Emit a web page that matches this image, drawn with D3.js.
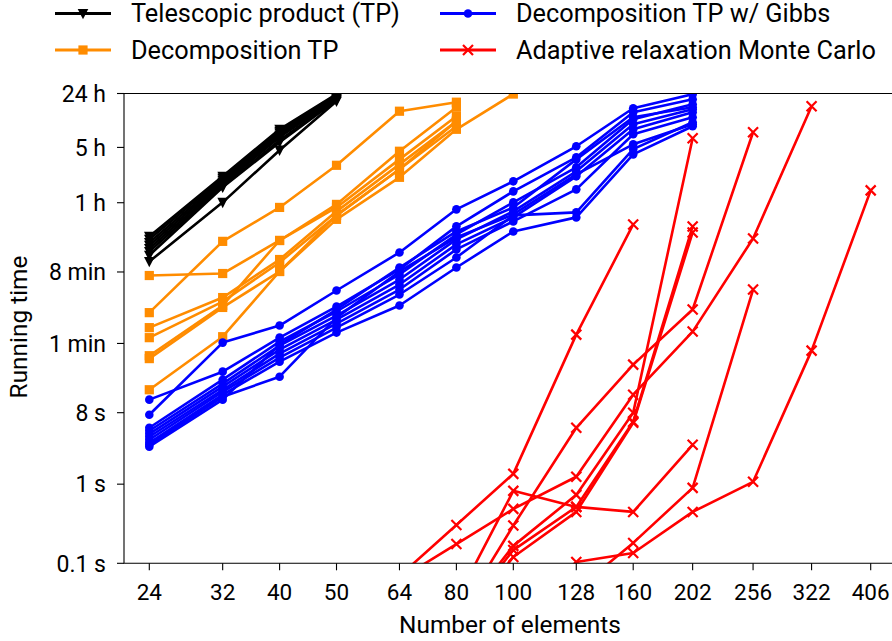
<!DOCTYPE html>
<html>
<head>
<meta charset="utf-8">
<script src="https://cdn.jsdelivr.net/npm/d3@7"></script>
<style>
  body { margin: 0; background: #fff; }
  svg { display: block; font-family: Roboto, "Liberation Sans", sans-serif; }
</style>
</head>
<body>
<svg id="chart" width="892" height="641"></svg>
<script>
// problem sizes (x axis) and y tick values in seconds
const sizes = [24, 32, 40, 50, 64, 80, 100, 128, 160, 202, 256, 322, 406];
const timeTicks = [0.1, 1, 8, 60, 480, 3600, 18000, 86400];
const timeTickLabels = ["0.1 s", "1 s", "8 s", "1 min", "8 min", "1 h", "5 h", "24 h"];

// running times in seconds, aligned with sizes (null = not run)
const tpRuns = [
    [1350, 7760, 30500, 84700],
    [1240, 7330, 28800, 82300],
    [1130, 6910, 27200, 79900],
    [1040, 6520, 25600, 77600],
    [950, 6150, 24200, 75400],
    [870, 5800, 22200, 73200],
    [780, 5640, 20900, 71100],
    [650, 3640, 16600, 69000]
];

const dtpRuns = [
    [433, 459, 1200, 3140, 12700, 44600],
    [147, 1170, 3140, 10700, 51600, 67100],
    [95, 228, 690, 2800, 11000, 38600],
    [71, 203, 633, 2490, 9520, 33300],
    [42, 181, 1200, 3430, 16100, 58000],
    [38.6, 171, 487, 2490, 9520, 38600],
    [15.6, 73, 487, 2220, 7540, 30500, 85000]
];

const gibbsRuns = [
    [7.54, 61.5, 101, 280, 847, 2970, 6710, 18600, 56300, 84700],
    [11.7, 26.4, 71.1, 175, 516, 1810, 5010, 13500, 50100, 73200],
    [5.16, 20.9, 63.3, 152, 446, 1430, 3640, 10100, 40900, 63300],
    [4.73, 18.6, 56.3, 135, 385, 1240, 2800, 8980, 35300, 54700],
    [4.33, 17.1, 50.1, 120, 333, 1070, 2350, 7760, 30500, 50100],
    [3.97, 15.6, 44.6, 107, 288, 925, 2090, 5310, 26400, 43300],
    [3.64, 14.7, 39.7, 95.1, 249, 732, 2490, 2720, 17100, 37400],
    [3.33, 13.5, 35.3, 82.3, 181, 547, 1560, 2350, 14700, 33300],
    [3.14, 12.7, 22.8, 127, 487, 1310, 2560, 8230, 19700, 35300],
    [2.97, 11.7, 58.0, 161, 547, 1560, 3140, 12700, 43300, 58000]
];

const armcRuns = [
    [null, null, null, null, 0.069, 0.305, 1.35, 77.6, 1915],
    [null, null, null, null, null, 0.034, 0.823, 0.516, 0.446, 3.14],
    [null, null, null, null, 0.063, 0.175, 0.487, 1.24, 13.5, 84.7, 1274, 59700],
    [null, null, null, null, null, 0.02, 0.166, 0.732, 8.0, 23500],
    [null, null, null, null, null, 0.018, 0.147, 0.516, 6.15, 1807],
    [null, null, null, null, null, 0.015, 0.120, 0.446, 5.97, 1518],
    [null, null, null, null, null, 0.02, 0.3, 5.16, 32.4, 161, 28000],
    [null, null, null, null, null, null, 0.01, 0.0459, 0.181, 0.898, 288],
    [null, null, null, null, null, null, 0.02, 0.104, 0.135, 0.446, 1.07, 48.7, 5160]
];

const series = [
    {name: "Telescopic product (TP)", color: "#000000", marker: "tri", runs: tpRuns},
    {name: "Decomposition TP", color: "#ff8c00", marker: "square", runs: dtpRuns},
    {name: "Decomposition TP w/ Gibbs", color: "#0000ff", marker: "circle", runs: gibbsRuns},
    {name: "Adaptive relaxation Monte Carlo", color: "#ff0000", marker: "cross", runs: armcRuns}
];

const svg = d3.select("#chart");
const plotLeft = 124, plotRight = 897, plotTop = 93.5, plotBottom = 563.3;

const x = d3.scaleLog().domain([24, 406]).range([149.3, 870.7]);
const y = d3.scaleLog().domain([0.1, 86400]).range([plotBottom, plotTop]);

svg.append("defs").append("clipPath").attr("id", "plotclip")
    .append("rect").attr("x", plotLeft).attr("y", plotTop)
    .attr("width", plotRight - plotLeft).attr("height", plotBottom - plotTop);

function drawMarker(g, type, color, px, py) {
    if (type === "circle") {
        g.append("circle").attr("cx", px).attr("cy", py).attr("r", 4.3).attr("fill", color);
    } else if (type === "square") {
        g.append("rect").attr("x", px - 4.6).attr("y", py - 4.6).attr("width", 9.2).attr("height", 9.2).attr("fill", color);
    } else if (type === "tri") {
        g.append("path").attr("d", `M${px - 5.3},${py - 4.6}L${px + 5.3},${py - 4.6}L${px},${py + 5.8}Z`).attr("fill", color);
    } else if (type === "cross") {
        g.append("path").attr("d", `M${px - 5},${py - 5}L${px + 5},${py + 5}M${px - 5},${py + 5}L${px + 5},${py - 5}`)
            .attr("stroke", color).attr("stroke-width", 2.2).attr("fill", "none");
    }
}

const plot = svg.append("g").attr("clip-path", "url(#plotclip)");
const line = d3.line().x(d => x(d[0])).y(d => y(d[1]));

series.forEach(s => {
    s.runs.forEach(run => {
        const pts = run.map((t, i) => [sizes[i], t]).filter(d => d[1] != null);
        const g = plot.append("g");
        g.append("path").attr("d", line(pts)).attr("fill", "none")
            .attr("stroke", s.color).attr("stroke-width", 2.6).attr("stroke-linejoin", "round");
        pts.forEach(d => drawMarker(g, s.marker, s.color, x(d[0]), y(d[1])));
    });
});

// spines
svg.append("path").attr("d", `M${plotRight},${plotTop}H${plotLeft}V${plotBottom}H${plotRight}`)
    .attr("fill", "none").attr("stroke", "#000").attr("stroke-width", 1.1);

// x ticks
const xt = svg.append("g");
sizes.forEach(n => {
    xt.append("line").attr("x1", x(n)).attr("x2", x(n)).attr("y1", plotBottom).attr("y2", plotBottom + 7)
        .attr("stroke", "#000").attr("stroke-width", 1.1);
    xt.append("text").attr("x", x(n)).attr("y", 600).attr("text-anchor", "middle")
        .attr("font-size", 22.5).text(n);
});

// y ticks
const yt = svg.append("g");
timeTicks.forEach((t, i) => {
    yt.append("line").attr("x1", plotLeft - 7).attr("x2", plotLeft).attr("y1", y(t)).attr("y2", y(t))
        .attr("stroke", "#000").attr("stroke-width", 1.1);
    yt.append("text").attr("x", 106).attr("y", y(t)).attr("dy", "0.36em").attr("text-anchor", "end")
        .attr("font-size", 23).text(timeTickLabels[i]);
});

svg.append("text").attr("x", 510).attr("y", 633).attr("text-anchor", "middle")
    .attr("font-size", 24.4).text("Number of elements");
svg.append("text").attr("transform", "translate(27,327) rotate(-90)").attr("text-anchor", "middle")
    .attr("font-size", 24.4).text("Running time");

// legend, two columns
const legendPos = [[55, 13.5], [55, 50], [440, 13.5], [440, 50]];
series.forEach((s, i) => {
    const [lx, ly] = legendPos[i];
    const g = svg.append("g");
    g.append("line").attr("x1", lx).attr("x2", lx + 56).attr("y1", ly).attr("y2", ly)
        .attr("stroke", s.color).attr("stroke-width", 2.8);
    drawMarker(g, s.marker, s.color, lx + 28, ly);
    g.append("text").attr("x", lx + 76).attr("y", ly + 8.5).attr("font-size", 25.3).text(s.name);
});
</script>
</body>
</html>
